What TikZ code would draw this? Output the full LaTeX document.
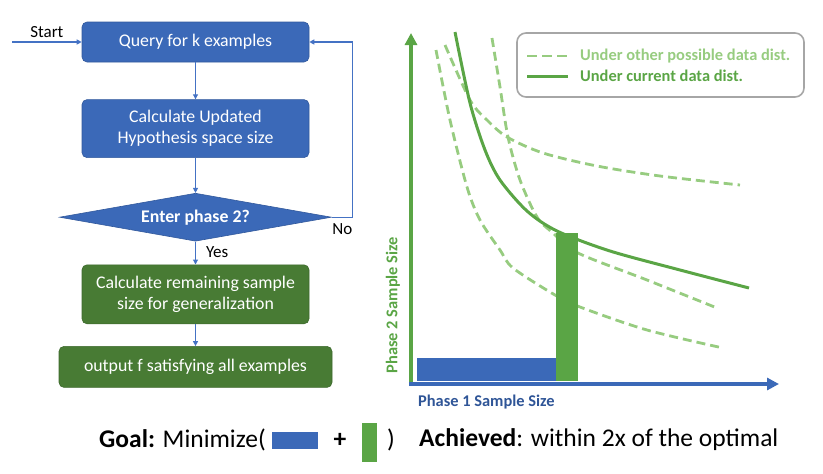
\documentclass[tikz,border=0pt]{standalone}
\usepackage{fontspec}
\setmainfont{Carlito}
\usetikzlibrary{arrows.meta,positioning,shapes.geometric}

\definecolor{boxblue}{HTML}{3B69B8}
\definecolor{boxgreen}{HTML}{487B34}
\definecolor{linkblue}{HTML}{4472C4}
\definecolor{plotgreen}{HTML}{5AA545}
\definecolor{lightgreen}{HTML}{97CC80}
\definecolor{labelblue}{HTML}{2F5597}
\definecolor{framegray}{HTML}{A6A6A6}

\tikzset{
  flowtext/.style={text=white,align=center,font=\fontsize{17.8}{21}\selectfont,inner sep=0pt},
  stepblue/.style={flowtext,rectangle,rounded corners=5pt,fill=boxblue,draw=boxblue!85!black,line width=0.6pt,minimum width=227pt},
  stepgreen/.style={flowtext,rectangle,rounded corners=5pt,fill=boxgreen,draw=boxgreen!85!black,line width=0.6pt,minimum width=227pt},
  decision/.style={flowtext,diamond,aspect=5,fill=boxblue,draw=boxblue!85!black,line width=0.6pt,font=\fontsize{17.8}{21}\selectfont\bfseries,minimum width=272pt,minimum height=48pt},
  flow/.style={draw=linkblue,line width=1.1pt,-{Triangle[length=5pt,width=5pt]}},
  tag/.style={font=\fontsize{17}{20}\selectfont,inner sep=1pt},
  curvenow/.style={plotgreen,line width=3pt},
  curveother/.style={lightgreen,line width=2.8pt,dash pattern=on 9pt off 5pt},
  axislabel/.style={font=\fontsize{16.4}{19}\selectfont\bfseries,inner sep=0pt},
  bigtext/.style={font=\fontsize{25.5}{28}\selectfont,inner sep=0pt}
}

\begin{document}
\begin{tikzpicture}[x=1pt,y=-1pt]
\useasboundingbox (0,0) rectangle (823,474);

% flow chart
\node[stepblue,minimum height=40pt]	(query)	at (195.5,42)	{Query for k examples};
\node[stepblue,minimum height=58pt]	(update)	[below=37pt of query]	{Calculate Updated\\Hypothesis space size};
\node[decision]	(enter)	[below=35pt of update]	{Enter phase 2?};
\node[stepgreen,minimum height=59pt]	(remain)	[below=23pt of enter]	{Calculate remaining sample\\size for generalization};
\node[stepgreen,minimum width=273pt,minimum height=41pt]	(output)	[below=22pt of remain]	{output f satisfying all examples};

\coordinate (start) at (12,42);
\draw[flow] (start) -- node[tag,above=3pt] {Start} (query);
\draw[flow] (query) -- (update);
\draw[flow] (update) -- (enter);
\draw[flow] (enter) -- node[tag,right=9pt,pos=0.45] {Yes} (remain);
\draw[flow] (remain) -- (output);
\draw[flow] (enter.east) -- node[tag,below=5pt] {No} ++(21,0) |- (query.east);

% sample size plot
\draw[curveother] plot[smooth] coordinates {(436,50) (450,120) (467,187) (480,220) (500,250) (513,268) (555,295) (580,307) (647,330) (723,348)};
\draw[curveother] plot[smooth] coordinates {(445,45) (470,100) (487,120) (507,137) (543,153) (597,166) (660,176) (740,185)};
\draw[curveother] plot[smooth] coordinates {(492,38) (500,87) (508,137) (520,180) (537,217) (553,233) (578,253) (647,280) (717,308)};
\draw[curvenow] plot[smooth] coordinates {(455,32) (470,103) (485,150) (500,180) (527,211) (557,231) (610,251) (680,270) (749,288)};

\fill[boxblue] (417,358) rectangle (556,381);
\fill[plotgreen] (556,233) rectangle (578,381);

\coordinate (origin) at (411,386);
\coordinate (ytop) at (411,33);
\coordinate (xleft) at (409,384);
\coordinate (xright) at (779,384);
\draw[plotgreen,line width=4pt,-{Triangle[length=12pt,width=12pt]}] (origin) -- (ytop);
\draw[boxblue,line width=3.5pt,-{Triangle[length=12pt,width=12pt]}] (xleft) -- (xright);

\node[axislabel,text=labelblue,anchor=west]	(xlabel)	at (418,402)	{Phase 1 Sample Size};
\node[axislabel,text=plotgreen,rotate=90]	(ylabel)	at (393,305)	{Phase 2 Sample Size};

% legend
\draw[framegray,line width=1.6pt,rounded corners=9pt] (517,33) rectangle (804,97);
\coordinate (dashA) at (527,56);
\coordinate (dashB) at (568,56);
\coordinate (lineA) at (527,76);
\coordinate (lineB) at (568,76);
\draw[curveother,dash pattern=on 10pt off 5pt] (dashA) -- (dashB);
\draw[curvenow] (lineA) -- (lineB);
\node[axislabel,text=lightgreen,anchor=west]	(otherdist)	at (580,56)	{Under other possible data dist.};
\node[axislabel,text=plotgreen,anchor=west]	(currentdist)	at (580,76)	{Under current data dist.};

% goal line
\node[bigtext,anchor=west]	(goal)	at (99,440)	{\textbf{Goal:} Minimize(};
\fill[boxblue] (272,432) rectangle (318,449);
\node[bigtext,font=\fontsize{25.5}{28}\selectfont\bfseries]	(plus)	at (340,440)	{+};
\fill[plotgreen] (362,423) rectangle (377,462);
\node[bigtext]	(close)	at (391,440)	{)};
\node[bigtext,anchor=west]	(achieved)	at (419,440)	{\textbf{Achieved}: within 2x of the optimal};
\end{tikzpicture}
\end{document}
